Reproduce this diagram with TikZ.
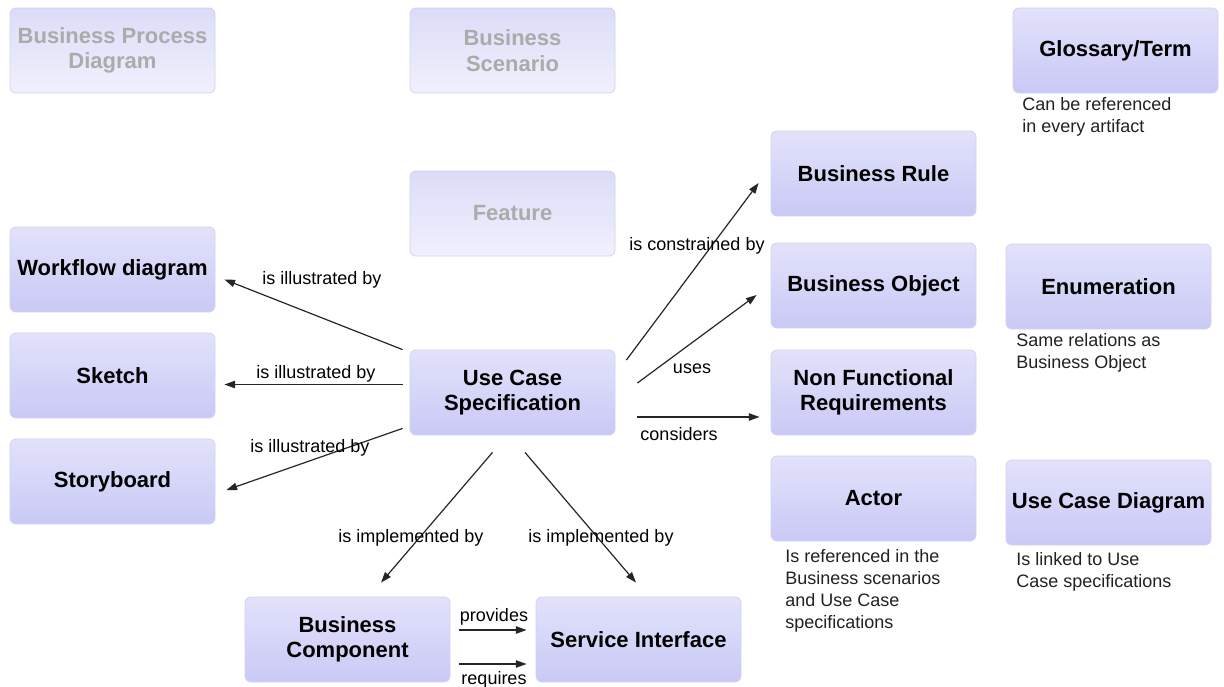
\documentclass[tikz,border=0pt]{standalone}
\usepackage{fontspec}
\setmainfont{Liberation Sans}
\usetikzlibrary{arrows.meta,calc}
\definecolor{boxtop}{HTML}{E2E2FB}
\definecolor{boxbot}{HTML}{C9C9F6}
\definecolor{boxline}{HTML}{D2D2F2}
\definecolor{fadetop}{HTML}{DCDCF8}
\definecolor{fadebot}{HTML}{F0F0FD}
\definecolor{fadetext}{HTML}{ABABAB}
\definecolor{notetext}{HTML}{222222}
\tikzset{
  artifact/.style={rectangle, rounded corners=4.5pt, draw=boxline, line width=0.6pt,
    top color=boxtop, bottom color=boxbot, minimum width=153.75pt, minimum height=63.75pt,
    inner sep=0pt, align=center, font=\fontsize{16.5}{19}\selectfont\bfseries, text=black},
  faded/.style={artifact, top color=fadetop, bottom color=fadebot, text=fadetext},
  rel/.style={font=\fontsize{13.5}{16}\selectfont, text=black, inner sep=0pt},
  note/.style={font=\fontsize{13.5}{16.5}\selectfont, text=notetext, inner sep=0pt, align=left, anchor=north west},
  arr/.style={draw=black!85, line width=0.9pt, -{Triangle[length=8pt,width=5.5pt]}}
}
\begin{document}
\begin{tikzpicture}[x=0.75pt,y=-0.75pt]
\useasboundingbox[fill=white] (0,0) rectangle (1224,686);
% faded artifacts
\node[faded] (bpd) at (112.5,50.5) {Business Process\\Diagram};
\node[faded] (bs) at (512.5,50.5) {Business\\Scenario};
\node[faded] (feat) at (512.5,213.5) {Feature};
% artifacts
\node[artifact] (gl) at (1115.5,50.5) {Glossary/Term};
\node[artifact] (br) at (873.5,173.5) {Business Rule};
\node[artifact] (wf) at (112.5,269.5) {Workflow diagram};
\node[artifact] (bo) at (873.5,285.5) {Business Object};
\node[artifact] (en) at (1108.5,286.5) {Enumeration};
\node[artifact] (sk) at (112.5,375.5) {Sketch};
\node[artifact] (ucs) at (512.5,392.5) {Use Case\\Specification};
\node[artifact] (nfr) at (873.5,392.5) {Non Functional\\Requirements};
\node[artifact] (sb) at (112.5,481.5) {Storyboard};
\node[artifact] (act) at (873.5,498.5) {Actor};
\node[artifact] (ucd) at (1108.5,502.5) {Use Case Diagram};
\node[artifact] (bc) at (347.5,639.5) {Business\\Component};
\node[artifact] (si) at (638.5,639.5) {Service Interface};
% notes
\node[note] (glnote) at (1022,97) {Can be referenced\\in every artifact};
\node[note] (ennote) at (1016,333) {Same relations as\\Business Object};
\node[note] (actnote) at (785,549) {Is referenced in the\\Business scenarios\\and Use Case\\specifications};
\node[note] (ucdnote) at (1016,552) {Is linked to Use\\Case specifications};
% connectors
\draw[arr] ($(ucs.north west)+(-7,0)$) -- ($(wf.east)+(9,10)$);
\draw[arr] ($(ucs.west)+(-7,-8)$) -- ($(sk.east)+(9,9)$);
\draw[arr] ($(ucs.south west)+(-7,-7)$) -- ($(sb.east)+(11,8.5)$);
\draw[arr] ($(ucs.south)+(-20,17)$) -- ($(bc.north)+(33.5,-14)$);
\draw[arr] ($(ucs.south)+(12.5,17)$) -- ($(si.north)+(-2.5,-14)$);
\draw[arr] ($(ucs.east)+(11,-32.5)$) -- ($(br.west)+(-12,9.5)$);
\draw[arr] ($(ucs.east)+(22,-9.5)$) -- ($(bo.west)+(-14,9.5)$);
\draw[arr] ($(ucs.east)+(22,24.5)$) -- ($(nfr.west)+(-11,24.5)$);
\draw[arr] ($(bc.east)+(9,-9.5)$) -- ($(si.west)+(-9,-9.5)$);
\draw[arr] ($(bc.east)+(9,24.5)$) -- ($(si.west)+(-9,24.5)$);
% relation labels
\node[rel] (l1) at (322,280) {is illustrated by};
\node[rel] (l2) at (316,374) {is illustrated by};
\node[rel] (l3) at (310,448) {is illustrated by};
\node[rel] (l4) at (411,538) {is implemented by};
\node[rel] (l5) at (601,538) {is implemented by};
\node[rel] (l6) at (697,246) {is constrained by};
\node[rel] (l7) at (692,369) {uses};
\node[rel] (l8) at (679,434) {considers};
\node[rel] (l9) at (494,617) {provides};
\node[rel] (l10) at (494,680) {requires};
\end{tikzpicture}
\end{document}
